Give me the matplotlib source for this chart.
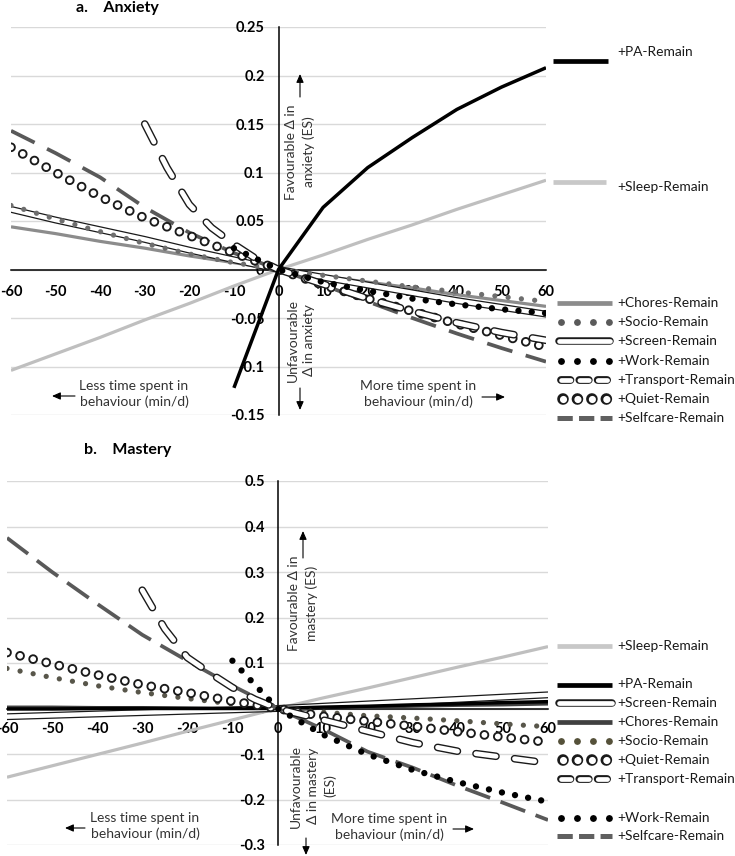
import matplotlib
matplotlib.use('Agg')
import matplotlib.pyplot as plt

plt.rcParams['font.family'] = ['Lato', 'DejaVu Sans']
plt.rcParams['lines.scale_dashes'] = False
plt.rcParams['axes.unicode_minus'] = False

# ---------------- data ----------------
x_full = [-60, -50, -40, -30, -20, -10, 0, 10, 20, 30, 40, 50, 60]
xticks = [-60, -50, -40, -30, -20, -10, 0, 10, 20, 30, 40, 50, 60]
xtick_labels = ['-60', '-50', '-40', '-30', '-20', '-10', '0', '10', '20', '30', '40', '50', '60']

# panel a: anxiety
a_yticks = [-0.15, -0.1, -0.05, 0, 0.05, 0.1, 0.15, 0.2, 0.25]
a_ytick_labels = ['-0.15', '-0.1', '-0.05', '0', '0.05', '0.1', '0.15', '0.2', '0.25']
a_pa_x = [-10, 0, 10, 20, 30, 40, 50, 60]
a_pa = [-0.122, 0, 0.064, 0.105, 0.136, 0.165, 0.188, 0.208]
a_sleep = [-0.104, -0.087, -0.070, -0.052, -0.035, -0.017, 0, 0.015, 0.031, 0.046, 0.062, 0.077, 0.092]
a_chores = [0.044, 0.037, 0.029, 0.022, 0.014, 0.007, 0, -0.007, -0.013, -0.019, -0.026, -0.032, -0.038]
a_socio = [0.066, 0.052, 0.039, 0.027, 0.016, 0.007, 0, -0.006, -0.012, -0.018, -0.023, -0.028, -0.033]
a_screen = [0.062, 0.051, 0.041, 0.031, 0.020, 0.010, 0, -0.008, -0.016, -0.024, -0.032, -0.039, -0.046]
a_work_x = [-10, -5, 0, 10, 20, 30, 40, 50, 60]
a_work = [0.022, 0.011, 0, -0.013, -0.022, -0.030, -0.036, -0.041, -0.045]
a_transport_x = [-30, -25, -20, -15, -10, -5, 0, 10, 20, 30, 40, 50, 60]
a_transport = [0.150, 0.105, 0.067, 0.043, 0.026, 0.011, 0, -0.015, -0.030, -0.043, -0.055, -0.065, -0.073]
a_quiet = [0.126, 0.100, 0.075, 0.053, 0.035, 0.017, 0, -0.016, -0.030, -0.043, -0.056, -0.068, -0.080]
a_selfcare = [0.143, 0.120, 0.095, 0.064, 0.038, 0.017, 0, -0.016, -0.033, -0.050, -0.066, -0.081, -0.095]

# panel b: mastery
b_yticks = [-0.3, -0.2, -0.1, 0, 0.1, 0.2, 0.3, 0.4, 0.5]
b_ytick_labels = ['-0.3', '-0.2', '-0.1', '0', '0.1', '0.2', '0.3', '0.4', '0.5']
b_sleep = [-0.151, -0.126, -0.101, -0.076, -0.050, -0.025, 0, 0.023, 0.045, 0.068, 0.091, 0.113, 0.136]
b_pa = [-0.001, -0.001, 0.000, 0.000, 0.000, 0.000, 0, 0.003, 0.005, 0.008, 0.010, 0.013, 0.015]
b_screen = [-0.018, -0.015, -0.012, -0.009, -0.006, -0.003, 0, 0.005, 0.010, 0.015, 0.020, 0.025, 0.030]
b_chores = [0.003, 0.003, 0.002, 0.002, 0.001, 0.000, 0, 0.002, 0.003, 0.005, 0.007, 0.008, 0.010]
b_socio = [0.088, 0.068, 0.050, 0.035, 0.022, 0.010, 0, -0.008, -0.016, -0.021, -0.027, -0.034, -0.040]
b_quiet = [0.123, 0.098, 0.074, 0.052, 0.035, 0.016, 0, -0.017, -0.028, -0.039, -0.051, -0.063, -0.074]
b_transport_x = [-30, -25, -20, -15, -10, -5, 0, 10, 20, 30, 40, 50, 60]
b_transport = [0.260, 0.175, 0.112, 0.078, 0.046, 0.020, 0, -0.025, -0.050, -0.075, -0.094, -0.107, -0.120]
b_work_x = [-10, -5, 0, 10, 20, 30, 40, 50, 60]
b_work = [0.105, 0.052, 0, -0.057, -0.101, -0.135, -0.162, -0.185, -0.205]
b_selfcare = [0.375, 0.300, 0.230, 0.162, 0.105, 0.050, 0, -0.045, -0.095, -0.130, -0.170, -0.207, -0.245]

# ---------------- styles ----------------
ST = {
    'pa': dict(kind='solid', color='black', lw=2.5),
    'sleep': dict(kind='solid', color='#bfbfbf', lw=2.3),
    'chores_a': dict(kind='solid', color='#8c8c8c', lw=2.3),
    'chores_b': dict(kind='solid', color='#404040', lw=2.3),
    'socio_a': dict(kind='dots', color='#6e6e6e', lw=3.8, period=9.6),
    'socio_b': dict(kind='dots', color='#58564a', lw=3.8, period=9.6),
    'screen': dict(kind='double', lw=5.0, inner=3.2),
    'work': dict(kind='dots', color='black', lw=4.6, period=9.6),
    'transport': dict(kind='capsule', lw=5.5, inner=3.5, dash=14.5, gap=13.5),
    'quiet': dict(kind='rings', lw=7.0, inner=4.3, period=9.7),
    'selfcare_a': dict(kind='dash', color='#595959', lw=2.7, dash=19, gap=10),
    'selfcare_b': dict(kind='dash', color='#595959', lw=2.7, dash=19, gap=8),
}

LEG = {
    'pa': dict(kind='solid', color='black', lw=3.4),
    'sleep': dict(kind='solid', color='#c8c8c8', lw=3.4),
    'chores_a': dict(kind='solid', color='#8c8c8c', lw=3.4),
    'chores_b': dict(kind='solid', color='#404040', lw=3.4),
    'socio_a': dict(kind='dots', color='#5a5a5a', lw=5.0, period=11.5),
    'socio_b': dict(kind='dots', color='#55513a', lw=5.0, period=11.5),
    'screen': dict(kind='double', lw=5.4, inner=3.4),
    'work': dict(kind='dots', color='black', lw=5.0, period=11.5),
    'transport': dict(kind='capsule', lw=5.6, inner=3.4, dash=6.8, gap=6.4),
    'quiet': dict(kind='rings', lw=8.4, inner=5.2, period=10.4),
    'selfcare_a': dict(kind='dash', color='#606060', lw=3.6, dash=11, gap=4.5),
    'selfcare_b': dict(kind='dash', color='#606060', lw=3.6, dash=11, gap=4.5),
}


def draw(ax, x, y, st, z, clip=True):
    k = st['kind']
    if k == 'solid':
        ax.plot(x, y, color=st['color'], lw=st['lw'], solid_capstyle='butt',
                solid_joinstyle='round', zorder=z, clip_on=clip)
    elif k == 'dots':
        ax.plot(x, y, color=st['color'], lw=st['lw'], linestyle=(0, (0.001, st['period'])),
                dash_capstyle='round', zorder=z, clip_on=clip)
    elif k == 'double':
        ax.plot(x, y, color='#1a1a1a', lw=st['lw'], solid_capstyle='round',
                solid_joinstyle='round', zorder=z, clip_on=clip)
        ax.plot(x, y, color='white', lw=st['inner'], solid_capstyle='round',
                solid_joinstyle='round', zorder=z + 0.01, clip_on=clip)
    elif k == 'capsule':
        ls = (0, (st['dash'], st['gap']))
        ax.plot(x, y, color='#1a1a1a', lw=st['lw'], linestyle=ls, dash_capstyle='round',
                dash_joinstyle='round', zorder=z, clip_on=clip)
        ax.plot(x, y, color='white', lw=st['inner'], linestyle=ls, dash_capstyle='round',
                dash_joinstyle='round', zorder=z + 0.01, clip_on=clip)
    elif k == 'rings':
        ls = (0, (0.001, st['period']))
        ax.plot(x, y, color='#1a1a1a', lw=st['lw'], linestyle=ls, dash_capstyle='round',
                zorder=z, clip_on=clip)
        ax.plot(x, y, color='white', lw=st['inner'], linestyle=ls, dash_capstyle='round',
                zorder=z + 0.01, clip_on=clip)
    elif k == 'dash':
        ax.plot(x, y, color=st['color'], lw=st['lw'], linestyle=(0, (st['dash'], st['gap'])),
                dash_capstyle='butt', zorder=z, clip_on=clip)


W, H = 735, 856
fig = plt.figure(figsize=(W / 100, H / 100), dpi=100)


def make_axes(left, right, top, bottom, ylim, yticks, ylabels, xpad, ypad):
    ax = fig.add_axes([left / W, 1 - bottom / H, (right - left) / W, (bottom - top) / H])
    ax.set_xlim(-60, 60)
    ax.set_ylim(*ylim)
    ax.spines['left'].set_position(('data', 0))
    ax.spines['bottom'].set_position(('data', 0))
    ax.spines['top'].set_visible(False)
    ax.spines['right'].set_visible(False)
    for s in ('left', 'bottom'):
        ax.spines[s].set_color('black')
        ax.spines[s].set_linewidth(1.1)
        ax.spines[s].set_zorder(2)
    ax.set_xticks(xticks)
    ax.set_xticklabels(xtick_labels, fontsize=10.5, fontweight='bold')
    ax.set_yticks(yticks)
    ax.set_yticklabels(ylabels, fontsize=10.5, fontweight='bold')
    ax.tick_params(axis='x', length=0, pad=xpad)
    ax.tick_params(axis='y', length=0, pad=ypad)
    ax.yaxis.grid(True, color='#d9d9d9', lw=1.0, zorder=0)
    ax.set_axisbelow(True)
    ax.patch.set_alpha(0)
    return ax


axa = make_axes(11, 546, 27, 415, (-0.15, 0.25), a_yticks, a_ytick_labels, 11, 10)
axb = make_axes(7, 548, 481, 845, (-0.3, 0.5), b_yticks, b_ytick_labels, 10, 9)

# panel a lines
draw(axa, x_full, a_sleep, ST['sleep'], 3)
draw(axa, x_full, a_chores, ST['chores_a'], 3.1)
draw(axa, x_full, a_screen, ST['screen'], 3.2)
draw(axa, x_full, a_socio, ST['socio_a'], 3.3)
draw(axa, x_full, a_selfcare, ST['selfcare_a'], 3.4)
draw(axa, x_full, a_quiet, ST['quiet'], 3.5)
draw(axa, a_transport_x, a_transport, ST['transport'], 3.6)
draw(axa, a_work_x, a_work, ST['work'], 3.7)
draw(axa, a_pa_x, a_pa, ST['pa'], 3.8)

# panel b lines
draw(axb, x_full, b_sleep, ST['sleep'], 3)
draw(axb, x_full, b_chores, ST['chores_b'], 3.1)
draw(axb, x_full, b_screen, ST['screen'], 3.2)
draw(axb, x_full, b_pa, ST['pa'], 3.3)
draw(axb, x_full, b_socio, ST['socio_b'], 3.4)
draw(axb, x_full, b_quiet, ST['quiet'], 3.5)
draw(axb, x_full, b_selfcare, ST['selfcare_b'], 3.6)
draw(axb, b_transport_x, b_transport, ST['transport'], 3.7)
draw(axb, b_work_x, b_work, ST['work'], 3.8)

# ---------------- overlay (pixel coordinates) ----------------
ov = fig.add_axes([0, 0, 1, 1])
ov.set_xlim(0, W)
ov.set_ylim(H, 0)
ov.axis('off')
ov.patch.set_alpha(0)

leg_a = [
    ('pa', '+PA-Remain', 61, 52, 553, 608),
    ('sleep', '+Sleep-Remain', 182, 187, 553, 606),
    ('chores_a', '+Chores-Remain', 303, 303, 557, 612),
    ('socio_a', '+Socio-Remain', 322, 322, 561, 612),
    ('screen', '+Screen-Remain', 341, 341, 559, 610),
    ('work', '+Work-Remain', 361, 361, 561, 612),
    ('transport', '+Transport-Remain', 380, 380, 561, 612),
    ('quiet', '+Quiet-Remain', 399, 399, 563, 608),
    ('selfcare_a', '+Selfcare-Remain', 418, 418, 557, 612),
]
leg_b = [
    ('sleep', '+Sleep-Remain', 646, 646, 557, 612),
    ('pa', '+PA-Remain', 685, 684, 557, 612),
    ('screen', '+Screen-Remain', 703, 703, 559, 612),
    ('chores_b', '+Chores-Remain', 722, 722, 557, 612),
    ('socio_b', '+Socio-Remain', 741, 741, 561, 612),
    ('quiet', '+Quiet-Remain', 760, 760, 563, 608),
    ('transport', '+Transport-Remain', 779, 779, 561, 612),
    ('work', '+Work-Remain', 818, 818, 561, 612),
    ('selfcare_b', '+Selfcare-Remain', 836, 836, 557, 612),
]
for entries in (leg_a, leg_b):
    for key, label, ys, yt, x0, x1 in entries:
        draw(ov, [x0, x1], [ys, ys], LEG[key], 5, clip=False)
        ov.text(617, yt, label, fontsize=9.9, ha='left', va='center', color='#1a1a1a')

# titles
ov.text(76, 8, 'a.    Anxiety', fontsize=11.5, fontweight='bold', ha='left', va='center')
ov.text(84, 450, 'b.    Mastery', fontsize=11.5, fontweight='bold', ha='left', va='center')

txt_kw = dict(fontsize=10, color='#333333', ha='center', va='center', multialignment='center')
ov.text(300, 152, 'Favourable Δ in\nanxiety (ES)', rotation=90, linespacing=1.45, **txt_kw)
ov.text(301, 340, 'Unfavourable\nΔ in anxiety', rotation=90, linespacing=1.45, **txt_kw)
ov.text(134, 394, 'Less time spent in\nbehaviour (min/d)', linespacing=1.3, **txt_kw)
ov.text(418, 394, 'More time spent in\nbehaviour (min/d)', linespacing=1.3, **txt_kw)

ov.text(303, 603, 'Favourable Δ in\nmastery (ES)', rotation=90, linespacing=1.45, **txt_kw)
ov.text(313, 786, 'Unfavourable\nΔ in mastery\n(ES)', rotation=90, linespacing=1.45, **txt_kw)
ov.text(145, 826, 'Less time spent in\nbehaviour (min/d)', linespacing=1.3, **txt_kw)
ov.text(389, 827, 'More time spent in\nbehaviour (min/d)', linespacing=1.3, **txt_kw)

arr = dict(arrowstyle='-|>,head_length=0.5,head_width=0.22', color='black', lw=0.8,
           shrinkA=0, shrinkB=0)
for (x0, y0, x1, y1) in [(300, 97, 300, 74), (300, 388, 300, 410),
                         (75, 396, 52, 396), (482, 397, 505, 397),
                         (303, 558, 303, 531), (306, 838, 306, 855),
                         (85, 828, 65, 828), (453, 829, 474, 829)]:
    ov.annotate('', xy=(x1, y1), xytext=(x0, y0), arrowprops=arr)

fig.savefig('out.png', dpi=100)
